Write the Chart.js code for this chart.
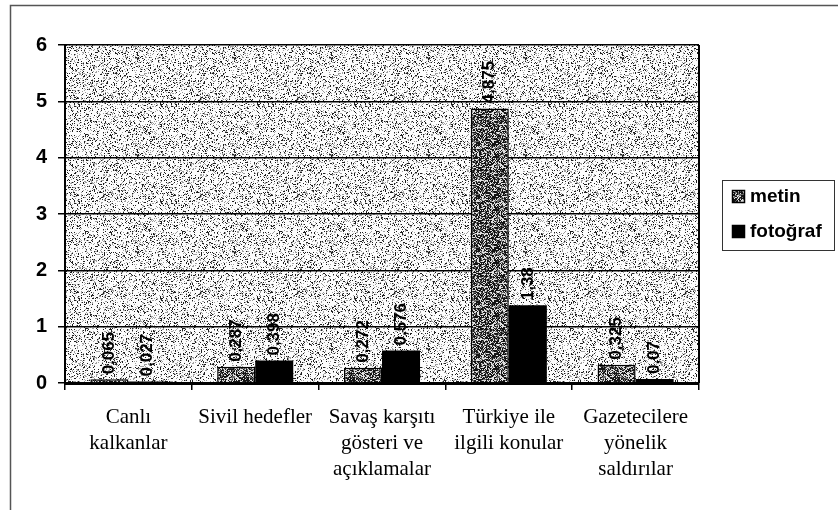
<!DOCTYPE html>
<html><head><meta charset="utf-8">
<script src="https://cdn.jsdelivr.net/npm/chart.js@4.4.1/dist/chart.umd.min.js"></script>
<style>html,body{margin:0;padding:0;background:#fff}#wrap{width:838px;height:510px;position:relative}</style>
</head><body><div id="wrap"><canvas id="c" width="838" height="510"></canvas></div>
<script>
const categories = [['Canlı','kalkanlar'],['Sivil hedefler'],['Savaş karşıtı','gösteri ve','açıklamalar'],['Türkiye ile','ilgili konular'],['Gazetecilere','yönelik','saldırılar']];
const seriesNames = ['metin','fotoğraf'];
const metinValues = [0.065,0.287,0.272,4.875,0.325];
const fotografValues = [0.027,0.398,0.576,1.38,0.07];
const yTicks = [0,1,2,3,4,5,6];

// deterministic speckle textures (style only)
function hash(x,y,s){let h=Math.imul(x,374761393)+Math.imul(y,668265263)+Math.imul(s,144665);h=Math.imul(h^(h>>>13),1274126177);h^=h>>>16;return (h>>>0)/4294967296;}
function speckle(size,seed,dark,gray,base,darkC,grayC){
  const cv=document.createElement('canvas');cv.width=size;cv.height=size;const c=cv.getContext('2d');
  const img=c.createImageData(size,size);
  for(let y=0;y<size;y++)for(let x=0;x<size;x++){const r=hash(x,y,seed);let v=base;if(r<dark)v=darkC;else if(r<dark+gray)v=grayC;const i=(y*size+x)*4;img.data[i]=img.data[i+1]=img.data[i+2]=v;img.data[i+3]=255;}
  c.putImageData(img,0,0);return c.createPattern(cv,'repeat');
}
const plotTex = speckle(97,1,0.12,0.14,252,30,160);
const metinTex = speckle(53,7,0.48,0.22,225,20,110);

const valueLabels={id:'valueLabels',afterDatasetsDraw(chart){
  const ctx=chart.ctx;ctx.save();ctx.fillStyle='#000';ctx.font='bold 17px "Liberation Sans", Arial, sans-serif';
  ctx.textAlign='left';ctx.textBaseline='middle';
  chart.data.datasets.forEach((ds,di)=>{chart.getDatasetMeta(di).data.forEach((bar,i)=>{
    ctx.save();ctx.translate(bar.x,bar.y-5);ctx.rotate(-Math.PI/2);ctx.fillText(String(ds.data[i]).replace('.',','),0,0);ctx.restore();});});
  ctx.restore();}};

const frame={id:'frame',beforeDraw(chart){
  const ctx=chart.ctx,a=chart.chartArea;ctx.save();
  ctx.fillStyle='#fff';ctx.fillRect(0,0,chart.width,chart.height);
  ctx.strokeStyle='#555';ctx.lineWidth=1.5;ctx.beginPath();ctx.moveTo(10.5,chart.height);ctx.lineTo(10.5,5.5);ctx.lineTo(chart.width,5.5);ctx.stroke();
  ctx.fillStyle=plotTex;ctx.fillRect(a.left,a.top,a.right-a.left,a.bottom-a.top);
  ctx.restore();},
 afterDraw(chart){
  const ctx=chart.ctx,a=chart.chartArea;ctx.save();
  ctx.strokeStyle='#000';ctx.lineWidth=2;ctx.beginPath();ctx.moveTo(a.right,a.top);ctx.lineTo(a.right,a.bottom);ctx.stroke();
  // legend
  const lx=722.5,ly=180.5,lw=112,lh=70;
  ctx.lineWidth=1;ctx.strokeStyle='#333';ctx.strokeRect(lx,ly,lw,lh);
  ctx.font='bold 19px "Liberation Sans", Arial, sans-serif';ctx.textBaseline='middle';ctx.textAlign='left';
  chart.data.datasets.forEach((ds,i)=>{
    const sy=190+i*35;
    ctx.fillStyle=ds.backgroundColor;ctx.fillRect(732,sy,13,13);
    ctx.strokeStyle='#000';ctx.lineWidth=1.5;ctx.strokeRect(732.5,sy+0.5,12,12);
    ctx.fillStyle='#000';ctx.fillText(ds.label,750,sy+7);
  });
  ctx.restore();}};

new Chart(document.getElementById('c'),{
  type:'bar',
  data:{labels:categories,datasets:[
    {label:seriesNames[0],data:metinValues,backgroundColor:metinTex,borderColor:'#000',borderWidth:1.5,barPercentage:1,categoryPercentage:0.6},
    {label:seriesNames[1],data:fotografValues,backgroundColor:'#000',borderColor:'#000',borderWidth:0,barPercentage:1,categoryPercentage:0.6}
  ]},
  options:{responsive:false,animation:false,devicePixelRatio:1,
    layout:{padding:{top:45,right:139,bottom:0,left:0}},
    plugins:{legend:{display:false},tooltip:{enabled:false}},
    scales:{
      x:{offset:true,grid:{display:true,drawOnChartArea:false,drawTicks:true,tickLength:7,color:'#000',lineWidth:1.5,offset:true},
        border:{display:true,color:'#000',width:3},
        ticks:{color:'#000',font:{family:'"Liberation Serif", "Times New Roman", serif',size:21,lineHeight:1.25},padding:14,maxRotation:0,minRotation:0,autoSkip:false},
        afterFit(s){s.height=127;}},
      y:{min:yTicks[0],max:yTicks[yTicks.length-1],
        afterBuildTicks(s){s.ticks=yTicks.map(v=>({value:v}));},
        grid:{color:'#000',lineWidth:1.5,tickLength:7,drawTicks:true},
        border:{display:true,color:'#000',width:2},
        ticks:{color:'#000',font:{family:'"Liberation Sans", Arial, sans-serif',size:20,weight:'bold'},padding:11,callback:v=>String(v)},
        afterFit(s){s.width=65;}}
    }},
  plugins:[frame,valueLabels]
});
</script></body></html>
